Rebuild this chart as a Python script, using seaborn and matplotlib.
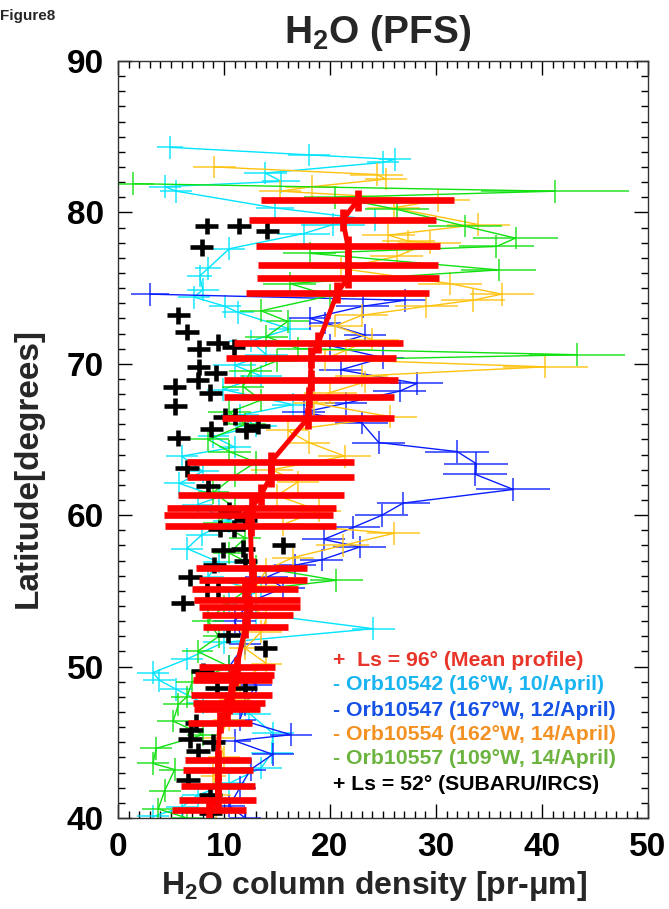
import numpy as np
import pandas as pd
import matplotlib
matplotlib.use("Agg")
from matplotlib import pyplot as plt
from matplotlib.ticker import MultipleLocator
import seaborn as sns

sns.set_theme(style="ticks")
plt.rcParams["font.family"] = ["Liberation Sans", "DejaVu Sans"]
plt.rcParams["font.weight"] = "bold"
plt.rcParams["mathtext.default"] = "regular"

# PFS mean profile (Ls = 96)
mean_lat = [80.8, 79.5, 77.75, 76.55, 75.7, 74.7, 71.4, 70.4, 68.9, 67.8, 66.4,
            63.5, 62.55, 61.35, 60.5, 60.0, 59.3, 56.5, 55.7, 55.1, 54.4, 53.95,
            53.4, 52.6, 49.95, 49.45, 49.1, 48.1, 47.6, 47.2, 46.3, 43.8, 43.2,
            42.1, 41.2, 40.5]
mean_val = [22.6, 21.2, 21.7, 21.7, 21.7, 20.7, 18.9, 18.2, 18.2, 18.0, 17.9,
            14.4, 14.4, 13.5, 12.6, 12.3, 12.5, 12.6, 12.7, 12.0, 12.2, 12.4,
            12.2, 12.0, 11.2, 11.0, 10.8, 10.7, 10.5, 10.3, 9.6, 9.4, 9.4,
            9.4, 9.4, 8.6]
mean_std = [9.1, 8.8, 8.7, 8.5, 8.6, 8.6, 8.0, 8.0, 8.2, 8.0, 8.1,
            7.9, 7.9, 7.8, 8.0, 8.0, 8.1, 5.2, 5.1, 5.0, 5.0, 4.8,
            4.3, 4.0, 3.6, 3.7, 3.7, 3.8, 3.4, 3.1, 3.0, 3.1, 3.3,
            3.5, 3.6, 3.5]

# Orb10542
cyan_lat = [84.3, 83.8, 83.5, 83.3, 82.6, 82.05, 81.7, 81.4, 80.3, 79.5, 79.2, 78.6,
            77.6, 76.3, 75.8, 74.9, 74.4, 73.8, 73.4, 72.3, 71.5, 70.6, 69.9, 69.2,
            68.3, 67.3, 66.6, 65.9, 65.2, 64.5, 63.9, 62.9, 62.1, 61.2, 60.7, 59.6,
            58.7, 57.8, 56.9, 55.9, 55.0, 54.3, 53.5, 52.5, 51.6, 50.5, 49.6, 49.1,
            48.5, 47.6, 46.9, 45.6, 44.3, 43.3, 42.3, 41.5, 40.7, 40.1]
cyan_val = [4.9, 18.0, 26.1, 25.0, 13.9, 15.4, 4.4, 5.5, 14.8, 24.2, 20.3, 17.5,
            10.5, 8.5, 7.7, 8.0, 7.2, 10.1, 11.3, 16.2, 12.5, 14.0, 11.0, 13.5,
            9.9, 16.5, 11.5, 13.0, 9.0, 11.0, 6.0, 8.0, 5.8, 9.5, 7.5, 10.5,
            7.9, 6.5, 9.5, 8.5, 13.5, 10.5, 13.0, 24.1, 10.0, 6.5, 3.3, 3.9,
            5.5, 8.0, 12.4, 14.6, 14.5, 13.5, 10.5, 7.5, 6.0, 3.3]
cyan_err = [1.2, 2.0, 1.5, 1.5, 2.0, 1.8, 1.5, 1.5, 1.8, 2.5, 3.0, 2.5,
            1.5, 1.2, 1.2, 1.5, 1.5, 1.5, 1.5, 2.0, 2.0, 2.0, 2.0, 2.0,
            1.5, 2.0, 1.8, 2.0, 1.5, 1.5, 1.5, 1.5, 1.5, 1.5, 1.5, 1.5,
            1.5, 1.5, 1.5, 1.5, 2.0, 2.0, 2.0, 2.0, 2.0, 1.5, 1.5, 1.5,
            1.5, 1.5, 2.0, 2.0, 2.0, 2.0, 1.5, 1.5, 1.5, 1.5]

# Orb10547
blue_lat = [74.6, 74.2, 73.8, 73.0, 72.7, 71.9, 71.2, 70.4, 69.6, 68.7, 68.2, 67.4,
            66.8, 66.1, 64.8, 64.2, 63.4, 62.7, 61.7, 60.8, 60.0, 59.2, 58.4, 57.9,
            57.05, 56.7, 55.9, 55.2, 54.3, 53.0, 51.5, 50.0, 48.8, 47.5, 46.5, 45.5,
            45.1, 44.2, 43.2, 42.0, 40.8, 40.0]
blue_val = [3.0, 27.1, 23.1, 18.1, 19.5, 23.3, 20.0, 25.0, 21.0, 28.2, 26.6, 21.5,
            17.5, 23.0, 24.6, 32.0, 33.8, 33.7, 37.3, 26.9, 24.9, 22.2, 19.4, 22.8,
            19.2, 16.7, 14.0, 15.6, 12.5, 11.0, 12.0, 10.5, 13.0, 12.0, 11.5, 16.3,
            11.0, 14.6, 12.5, 11.5, 10.5, 12.0]
blue_err = [1.8, 2.0, 2.5, 2.0, 1.5, 2.0, 2.0, 2.0, 2.0, 2.5, 2.5, 2.0,
            2.0, 2.5, 2.5, 3.0, 3.0, 3.0, 3.5, 2.5, 2.5, 2.5, 2.0, 2.5,
            2.0, 2.0, 2.0, 2.0, 2.0, 2.0, 1.5, 1.5, 1.5, 1.5, 1.5, 2.0,
            1.5, 2.0, 1.5, 1.5, 1.5, 1.5]

# Orb10554
orange_lat = [83.0, 82.5, 82.2, 81.7, 81.4, 80.8, 80.3, 79.2, 78.5, 78.1, 78.0, 77.1,
              76.3, 75.3, 74.6, 74.2, 73.8, 73.2, 72.5, 71.6, 70.9, 70.3, 69.8, 69.2,
              68.8, 68.1, 67.4, 66.5, 65.6, 64.8, 63.9, 63.0, 62.2, 61.3, 60.3, 59.4,
              58.8, 58.0, 57.2, 56.4, 55.3, 54.3, 53.2, 52.3, 51.2, 50.2, 49.0, 47.8,
              46.5, 45.3, 44.0, 42.8, 41.5, 40.3]
orange_val = [9.1, 24.4, 25.3, 18.3, 15.3, 30.2, 26.0, 34.0, 25.5, 27.4, 29.4, 26.3,
              21.0, 31.3, 36.2, 33.5, 29.1, 23.0, 20.5, 24.0, 21.5, 19.5, 40.3, 23.0,
              23.3, 20.0, 18.5, 25.7, 16.0, 18.0, 21.4, 14.5, 17.0, 15.0, 19.0, 15.6,
              26.0, 21.2, 16.5, 14.0, 13.0, 12.0, 14.0, 13.5, 12.0, 14.0, 11.5, 11.0,
              10.5, 9.5, 10.0, 9.0, 9.5, 9.2]
orange_err = [2.0, 2.5, 2.0, 2.5, 2.0, 3.0, 2.5, 3.0, 2.5, 2.5, 3.0, 2.5,
              2.5, 3.0, 3.0, 3.0, 3.0, 2.5, 2.5, 2.5, 2.5, 2.5, 4.0, 2.5,
              2.5, 2.5, 2.0, 2.5, 2.0, 2.0, 2.5, 2.0, 2.0, 2.0, 2.0, 2.0,
              2.5, 2.5, 2.0, 2.0, 2.0, 1.5, 2.0, 2.0, 1.5, 1.5, 1.5, 1.5,
              1.5, 1.5, 1.5, 1.2, 1.2, 1.2]

# Orb10557
green_lat = [81.9, 81.4, 81.0, 80.2, 79.1, 78.3, 77.75, 77.3, 76.2, 75.3, 74.5, 73.5,
             72.8, 71.8, 71.0, 70.6, 70.2, 69.5, 68.5, 67.6, 66.8, 66.0, 65.0, 64.2,
             63.5, 62.6, 61.5, 60.5, 59.5, 58.5, 57.5, 56.6, 55.7, 55.0, 54.0, 53.0,
             52.0, 51.0, 50.0, 49.0, 48.0, 47.5, 46.4, 45.5, 44.6, 43.6, 43.2, 41.8,
             40.6, 40.0]
green_val = [1.4, 41.2, 20.5, 26.3, 32.7, 37.5, 35.7, 18.1, 35.9, 16.2, 20.0, 13.5,
             16.0, 14.0, 17.0, 43.3, 15.0, 12.5, 11.8, 13.5, 10.5, 12.0, 8.5, 10.5,
             13.0, 11.0, 9.0, 11.0, 9.5, 12.0, 10.5, 13.0, 20.6, 12.0, 10.0, 8.5,
             9.5, 7.5, 10.5, 7.0, 6.5, 5.7, 5.2, 8.0, 3.6, 3.3, 5.35, 4.4,
             3.8, 6.5]
green_err = [2.0, 7.0, 3.0, 3.0, 3.5, 4.0, 3.5, 2.5, 3.5, 2.5, 2.5, 2.0,
             2.0, 2.0, 2.0, 4.5, 2.0, 2.0, 2.0, 2.0, 2.0, 2.0, 2.0, 2.0,
             2.0, 2.0, 1.5, 1.5, 1.5, 1.5, 1.5, 1.5, 2.5, 1.5, 1.5, 1.5,
             1.5, 1.5, 1.5, 1.5, 1.5, 1.5, 1.5, 1.5, 1.5, 1.5, 1.5, 1.5,
             1.5, 1.5]

# SUBARU/IRCS (Ls = 52)
subaru_lat = [79.1, 79.1, 78.8, 77.7, 73.2, 72.1, 71.0, 71.4, 71.1, 69.8, 69.4, 68.9,
              68.5, 68.1, 67.2, 66.5, 66.5, 65.7, 65.6, 65.9, 65.1, 63.1, 61.9, 60.3,
              59.7, 59.1, 59.1, 58.0, 57.8, 57.7, 56.95, 56.7, 55.9, 55.1, 55.1, 54.2,
              52.1, 51.2, 49.7, 48.6, 48.6, 46.3, 45.8, 45.2, 45.0, 44.4, 42.5, 41.5,
              40.3]
subaru_val = [8.35, 11.4, 14.1, 7.9, 5.7, 6.5, 7.6, 9.4, 10.9, 7.6, 9.2, 7.5,
              5.35, 8.7, 5.4, 10.1, 11.0, 8.8, 12.1, 13.2, 5.7, 6.5, 8.5, 10.5,
              12.0, 9.6, 10.9, 15.6, 11.8, 9.9, 12.0, 9.1, 6.8, 8.35, 9.4, 6.1,
              10.4, 13.9, 8.0, 9.3, 12.0, 7.4, 6.9, 6.8, 9.0, 7.55, 6.6, 8.7,
              8.7]

orbits = [
    (cyan_lat, cyan_val, cyan_err, "#00e4ff"),
    (blue_lat, blue_val, blue_err, "#0a1eff"),
    (orange_lat, orange_val, orange_err, "#ffc20e"),
    (green_lat, green_val, green_err, "#10e010"),
]

fig = plt.figure(figsize=(6.69, 9.09), dpi=100)
ax = fig.add_axes([118 / 669, 1 - 818 / 909, 530 / 669, 757 / 909])

for lat, val, err, col in orbits:
    df = pd.DataFrame({"lat": lat, "val": val})
    sns.lineplot(data=df, x="val", y="lat", sort=False, estimator=None,
                 color=col, lw=1.0, ax=ax, zorder=2)
    ax.errorbar(val, lat, xerr=err, yerr=0.75, fmt="none", ecolor=col,
                elinewidth=1.1, alpha=0.9, zorder=2)

ax.errorbar(subaru_val, subaru_lat, xerr=1.1, yerr=0.55, fmt="none",
            ecolor="black", elinewidth=3.3, zorder=3)

mean_df = pd.DataFrame({"lat": mean_lat, "val": mean_val})
ax.errorbar(mean_val, mean_lat, xerr=mean_std, yerr=0.7, fmt="none",
            ecolor="#ff0000", elinewidth=4.8, zorder=4)
sns.lineplot(data=mean_df, x="val", y="lat", sort=False, estimator=None,
             color="#ff0000", lw=3.5, ax=ax, zorder=5)

ax.set_xlim(0, 50)
ax.set_ylim(40, 90)
ax.xaxis.set_major_locator(MultipleLocator(10))
ax.xaxis.set_minor_locator(MultipleLocator(1))
ax.yaxis.set_major_locator(MultipleLocator(10))
ax.yaxis.set_minor_locator(MultipleLocator(1))
ax.tick_params(which="both", direction="in", top=True, right=True,
               colors="black", width=1.0)
ax.tick_params(which="major", length=10, labelsize=24, pad=10)
ax.tick_params(which="minor", length=5)
for lab in ax.get_xticklabels() + ax.get_yticklabels():
    lab.set_fontweight("bold")
for s in ax.spines.values():
    s.set_linewidth(1.0)
    s.set_color("#333333")
ax.set_xlabel("")
ax.set_ylabel("")

fig.text(0.0, 1 - 16 / 909, "Figure8", fontsize=11, fontweight="bold",
         ha="left", va="center")
fig.text(378 / 669, 1 - 33 / 909, "H$_2$O (PFS)", fontsize=28,
         fontweight="bold", ha="center", va="center")
fig.text(28 / 669, 1 - 468 / 909, "Latitude[degrees]", fontsize=24,
         fontweight="bold", rotation=90, ha="center", va="center")
fig.text(374 / 669, 1 - 886 / 909, "H$_2$O column density [pr-\u03bcm]",
         fontsize=23, fontweight="bold", ha="center", va="center")

legend_lines = [
    ("+  Ls = 96\u00b0 (Mean profile)", "#e8352a", 660),
    ("- Orb10542 (16\u00b0W, 10/April)", "#1ab4f0", 685),
    ("- Orb10547 (167\u00b0W, 12/April)", "#1652e6", 710),
    ("- Orb10554 (162\u00b0W, 14/April)", "#f39123", 734),
    ("- Orb10557 (109\u00b0W, 14/April)", "#6cb33f", 758),
    ("+ Ls = 52\u00b0 (SUBARU/IRCS)", "black", 785),
]
for txt, col, ypx in legend_lines:
    fig.text(333 / 669, 1 - ypx / 909, txt, color=col, fontsize=15.3,
             fontweight="bold", ha="left", va="center")

fig.savefig("out.png", dpi=100)
